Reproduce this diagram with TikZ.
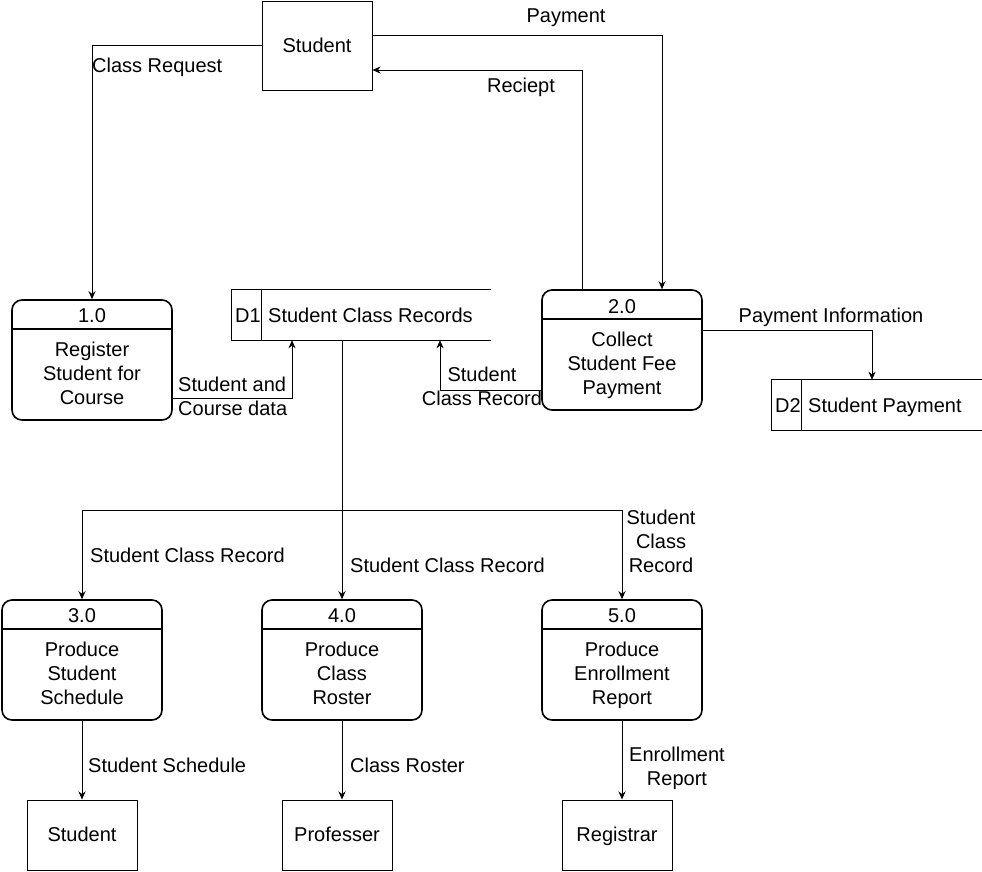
\documentclass[tikz,border=0pt]{standalone}
\usepackage{fontspec}
\setmainfont{Liberation Sans}
\usetikzlibrary{arrows.meta,calc}
\newcommand\linestrut{\rule[-5.1pt]{0pt}{24pt}}
\begin{document}
\begin{tikzpicture}[x=1pt,y=-1pt,
  every node/.style={font=\fontsize{20}{24}\selectfont, inner sep=0pt,
    execute at begin node=\linestrut, execute at end node=\linestrut},
  ent/.style={draw, line width=1pt, minimum width=110pt, minimum height=70pt},
  proc/.style={draw, line width=1.6pt, rounded corners=10pt, minimum width=160pt, minimum height=120pt},
  store/.style={minimum width=#1, minimum height=50pt},
  arr/.style={line width=0.9pt, -{Stealth[length=8pt,width=7pt,inset=2.5pt]}},
  lbl/.style={align=center},
  lbll/.style={align=left, anchor=west},
  ml/.style={yshift=-3pt}
]
\useasboundingbox (0,0) rectangle (982,871);
\fill[white] (0,0) rectangle (982,871);

% entities
\node[ent, minimum height=89pt] (s1) at (317,45.5) {Student};
\node[ent] (e1) at (82,835) {Student};
\node[ent] (e2) at (337,835) {Professer};
\node[ent] (e3) at (617,835) {Registrar};

% processes
\node[proc] (p1) at (92,360) {};
\node[proc] (p2) at (622,350) {};
\node[proc] (p3) at (82,660) {};
\node[proc] (p4) at (342,660) {};
\node[proc] (p5) at (622,660) {};
\foreach \p in {p1,p2,p3,p4,p5}{
  \draw[line width=1.6pt] ([yshift=-30pt]\p.north west) -- ([yshift=-30pt]\p.north east);
}
\node (p1t) at (92,316) {1.0};
\node[lbl,ml] (p1b) at (92,373) {Register\\Student for\\Course};
\node (p2t) at (622,307) {2.0};
\node[lbl,ml] (p2b) at (622,363) {Collect\\Student Fee\\Payment};
\node (p3t) at (82,616) {3.0};
\node[lbl,ml] (p3b) at (82,673) {Produce\\Student\\Schedule};
\node (p4t) at (342,616) {4.0};
\node[lbl,ml] (p4b) at (342,673) {Produce\\Class\\Roster};
\node (p5t) at (622,616) {5.0};
\node[lbl,ml] (p5b) at (622,673) {Produce\\Enrollment\\Report};

% data stores
\node[store=259pt] (d1) at (361.5,315) {};
\draw[line width=0.9pt] (d1.north east) -- (d1.north west) -- (d1.south west) -- (d1.south east);
\draw[line width=0.9pt] ([xshift=30pt]d1.north west) -- ([xshift=30pt]d1.south west);
\node (d1a) at (248,316) {D1};
\node[anchor=west] (d1b) at (268,316) {Student Class Records};

\node[store=210pt] (d2) at (877,405) {};
\draw[line width=0.9pt] (d2.north east) -- (d2.north west) -- (d2.south west) -- (d2.south east);
\draw[line width=0.9pt] ([xshift=30pt]d2.north west) -- ([xshift=30pt]d2.south west);
\node (d2a) at (788,406) {D2};
\node[anchor=west] (d2b) at (808,406) {Student Payment};

% flows
\draw[arr] (s1.west) -| (p1.north);
\node[lbll] (l1) at (92,66) {Class Request};

\draw[arr] ([yshift=10pt]s1.east) -| ([xshift=40pt]p2.north);
\node (l2) at (566,16) {Payment};

\draw[arr] ([xshift=-40pt]p2.north) |- ([yshift=-24.5pt]s1.east);
\node (l3) at (521,86) {Reciept};

\draw[arr] ([yshift=-38pt]p1.east) -| ([xshift=-69.5pt]d1.south);
\node[lbll,ml] (l4) at (178,396) {Student and\\Course data};

\draw[arr] ([yshift=-40pt]p2.west) -| ([xshift=78.5pt]d1.south);
\node[lbl,ml] (l5) at (482,386) {Student\\Class Record};

\draw[arr] ([yshift=20pt]p2.east) -| ([xshift=-5pt]d2.north);
\node (l6) at (831,316) {Payment Information};

\draw[arr] ([xshift=-19.5pt]d1.south) -- (p4.north);
\node[lbll] (l7) at (350,566) {Student Class Record};

\coordinate (br) at (342,510);
\draw[arr] (br) -| (p3.north);
\draw[arr] (br) -| (p5.north);
\node[lbll] (l8) at (90,556) {Student Class Record};
\node[lbl,ml] (l9) at (661,541) {Student\\Class\\Record};

\draw[arr] (p3.south) -- (e1.north);
\node[lbll] (l10) at (88,766) {Student Schedule};

\draw[arr] (p4.south) -- (p4.south |- e2.north);
\node[lbll] (l11) at (350,766) {Class Roster};

\draw[arr] (p5.south) -- (p5.south |- e3.north);
\node[lbl,ml] (l12) at (677,766) {Enrollment\\Report};
\end{tikzpicture}
\end{document}
